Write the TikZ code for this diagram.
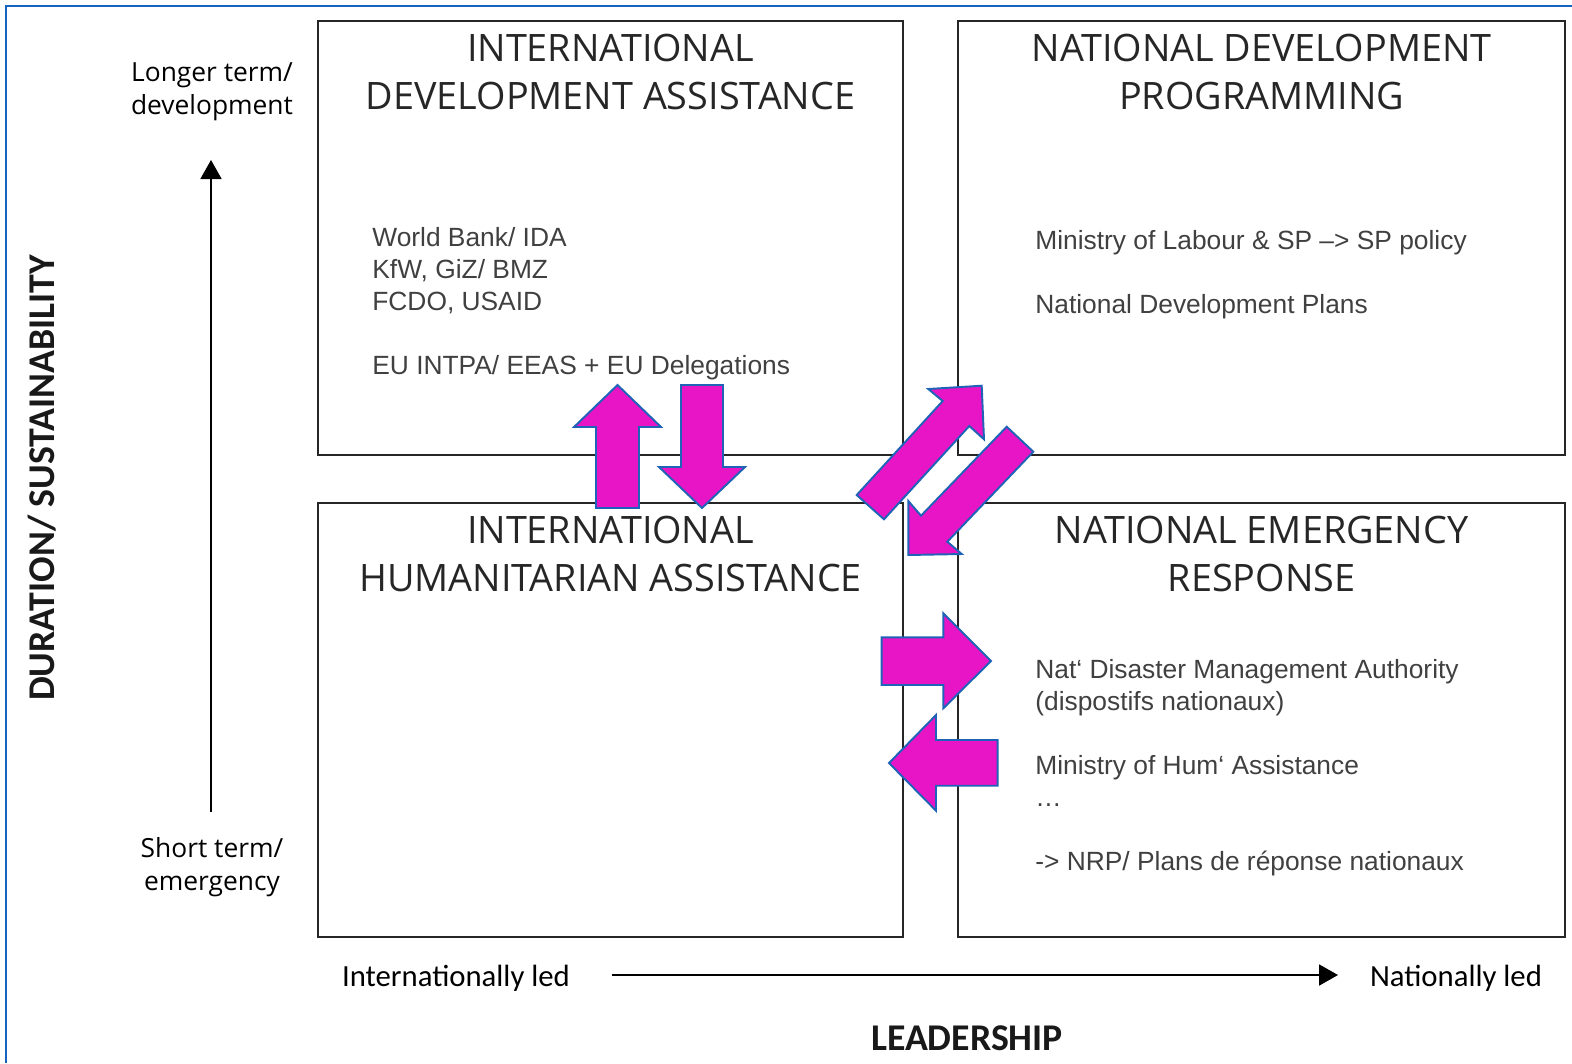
\documentclass[tikz,border=0pt]{standalone}
\usepackage{fontspec}
\setmainfont{Liberation Sans}
\newfontfamily\titlefont{Open Sans}
\newfontfamily\axisfont{Carlito}
\usetikzlibrary{arrows.meta}
\definecolor{boxline}{HTML}{262626}
\definecolor{frameblue}{HTML}{1565C0}
\definecolor{pushpink}{HTML}{E815C6}
\definecolor{pushedge}{HTML}{1F63B8}
\definecolor{bodygray}{HTML}{404040}

\begin{document}
\begin{tikzpicture}[x=0.02cm, y=-0.02cm,
    quad/.style={draw=boxline, line width=1.4pt, minimum height=8.68cm, inner sep=0pt},
    title/.style={font=\titlefont\fontsize{21.5}{27.3}\selectfont, text=black!85, align=center, inner sep=0pt},
    entry/.style={font=\fontsize{15}{18.2}\selectfont, text=bodygray, align=left, inner sep=0pt, anchor=west},
    endlabel/.style={font=\titlefont\fontsize{15}{18.8}\selectfont, align=center, inner sep=0pt},
    sidelabel/.style={font=\axisfont\fontsize{17.5}{21}\selectfont, inner sep=0pt},
    axisname/.style={font=\axisfont\bfseries\fontsize{21.5}{25}\selectfont, text=black!90, inner sep=0pt},
    axis/.style={line width=1.1pt, -{Triangle[length=0.38cm, width=0.42cm]}},
    push/.style={fill=pushpink, draw=pushedge, line width=1.1pt, line join=miter}]
    \useasboundingbox (0,0) rectangle (1572,1063);
    \draw[frameblue, line width=1.6pt] (6,1063) -- (6,6) -- (1572,6);

    % the four quadrants
    \node[quad, minimum width=11.7cm] (ida) at (610.5,238) {};
    \node[quad, minimum width=12.14cm] (ndp) at (1261.5,238) {};
    \node[quad, minimum width=11.7cm] (iha) at (610.5,720) {};
    \node[quad, minimum width=12.14cm] (ner) at (1261.5,720) {};

    \node[title] (idaT) at (610.5,72) {INTERNATIONAL\\DEVELOPMENT ASSISTANCE};
    \node[title] (ndpT) at (1261.5,72) {NATIONAL DEVELOPMENT\\PROGRAMMING};
    \node[title] (ihaT) at (610.5,554) {INTERNATIONAL\\HUMANITARIAN ASSISTANCE};
    \node[title] (nerT) at (1261.5,554) {NATIONAL EMERGENCY\\RESPONSE};

    \node[entry] (idaL) at (372,304) {World Bank/ IDA\\KfW, GiZ/ BMZ\\FCDO, USAID\\[18.2pt]EU INTPA/ EEAS + EU Delegations};
    \node[entry] (ndpL) at (1035,275) {Ministry of Labour \& SP –> SP policy\\[18.2pt]National Development Plans};
    \node[entry] (nerL) at (1035,768) {Nat‘ Disaster Management Authority\\(dispostifs nationaux)\\[18.2pt]Ministry of Hum‘ Assistance\\…\\[18.2pt]-> NRP/ Plans de réponse nationaux};

    % axes
    \node[endlabel] (long) at (212,92) {Longer term/\\development};
    \node[endlabel] (short) at (212,867) {Short term/\\emergency};
    \node[sidelabel] (intl) at (456,978) {Internationally led};
    \node[sidelabel] (natl) at (1456,978) {Nationally led};
    \node[axisname] (lead) at (967,1038) {LEADERSHIP};
    \node[axisname, rotate=90] (dur) at (42,478) {DURATION/ SUSTAINABILITY};
    \coordinate (ybot) at (211,812);
    \coordinate (ytop) at (211,160);
    \coordinate (xleft) at (612,975);
    \coordinate (xright) at (1338,975);
    \draw[axis] (ybot) -- (ytop);
    \draw[axis] (xleft) -- (xright);

    % exchange arrows
    \draw[push] (596,508) -- (596,427) -- (574,427) -- (617.5,385) -- (661,427) -- (639,427) -- (639,508) -- cycle;
    \draw[push] (681,385) -- (723,385) -- (723,467) -- (745,467) -- (702,508) -- (659,467) -- (681,467) -- cycle;
    \draw[push] (856.7,495) -- (942.7,401) -- (928.3,389) -- (981.7,385.7) -- (984,439.3) -- (969.3,426) -- (884,519.3) -- cycle;
    \draw[push] (1006.7,426.7) -- (1033.3,451.7) -- (947.3,541.7) -- (961.7,554) -- (908.3,555) -- (908.3,501) -- (921,515.7) -- cycle;
    \draw[push] (881.7,637.3) -- (943.3,637.3) -- (943.3,613.3) -- (991,661) -- (943.3,708.3) -- (943.3,685) -- (881.7,685) -- cycle;
    \draw[push] (997.7,740) -- (936,740) -- (936,715) -- (889,763) -- (936,810.7) -- (936,785.7) -- (997.7,785.7) -- cycle;
\end{tikzpicture}
\end{document}
